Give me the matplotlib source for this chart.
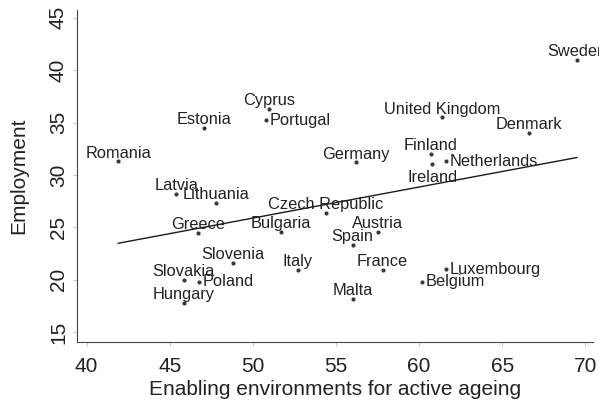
import numpy as np
import matplotlib.pyplot as plt

plt.rcParams["font.family"] = ["Liberation Sans", "DejaVu Sans"]

countries = ["Sweden", "United Kingdom", "Denmark", "Finland", "Ireland", "Netherlands",
             "Germany", "Cyprus", "Portugal", "Estonia", "Romania", "Latvia", "Lithuania",
             "Czech Republic", "Greece", "Bulgaria", "Austria", "Spain", "Slovenia",
             "Slovakia", "Poland", "Hungary", "Italy", "France", "Luxembourg", "Belgium", "Malta"]
enabling = [69.5, 61.4, 66.6, 60.7, 60.8, 61.6,
            56.2, 51.0, 50.8, 47.05, 41.9, 45.4, 47.8,
            54.4, 46.7, 51.7, 57.5, 56.0, 48.8,
            45.85, 46.75, 45.85, 52.7, 57.8, 61.6, 60.2, 56.0]
employment = [41.0, 35.5, 34.0, 32.0, 31.0, 31.3,
              31.2, 36.3, 35.2, 34.5, 31.3, 28.2, 27.3,
              26.4, 24.5, 24.6, 24.6, 23.3, 21.6,
              20.0, 19.8, 17.8, 20.9, 20.9, 21.0, 19.8, 18.2]
# label placement: "n" above the dot, "e" right of it, "s" below
label_pos = ["n", "n", "n", "n", "s", "e",
             "n", "n", "e", "n", "n", "n", "n",
             "n", "n", "n", "n", "n", "n",
             "n", "e", "n", "n", "n", "e", "e", "n"]

x_ticks = [40, 45, 50, 55, 60, 65, 70]
y_ticks = [15, 20, 25, 30, 35, 40, 45]

fig = plt.figure(figsize=(5.99, 4.09), dpi=100)
ax = fig.add_axes([0.1285, 0.1638, 0.862, 0.812])

x = np.array(enabling)
y = np.array(employment)
ax.scatter(x, y, s=9, color="#3a3a3a", zorder=3, linewidths=0)

# linear fit across the data range
b, a = np.polyfit(x, y, 1)
xs = np.array([x.min(), x.max()])
ax.plot(xs, a + b * xs, color="#1a1a1a", lw=1.0, zorder=2)

for name, xi, yi, pos in zip(countries, x, y, label_pos):
    if pos == "n":
        ax.annotate(name, (xi, yi), xytext=(0, 6), textcoords="offset points",
                    ha="center", va="center", fontsize=11.8, color="#222222")
    elif pos == "s":
        ax.annotate(name, (xi, yi), xytext=(0, -9.5), textcoords="offset points",
                    ha="center", va="center", fontsize=11.8, color="#222222")
    else:
        ax.annotate(name, (xi, yi), xytext=(2.5, 0), textcoords="offset points",
                    ha="left", va="center", fontsize=11.8, color="#222222",
                    annotation_clip=False)

ax.set_xlim(39.42, 70.48)
ax.set_ylim(14.05, 45.76)
ax.set_xticks(x_ticks)
ax.set_yticks(y_ticks)
ax.tick_params(axis="both", labelsize=15, colors="#cccccc", labelcolor="#222222",
               length=3, width=0.8)
ax.tick_params(axis="x", pad=8)
for lab in ax.get_yticklabels():
    lab.set_rotation(90)
    lab.set_va("center")

ax.spines["top"].set_visible(False)
ax.spines["right"].set_visible(False)
ax.spines["left"].set_color("#444444")
ax.spines["bottom"].set_color("#444444")

ax.set_xlabel("Enabling environments for active ageing", fontsize=15, color="#222222", labelpad=3)
ax.set_ylabel("Employment", fontsize=15, color="#222222", labelpad=15)

plt.savefig("out.png", dpi=100)
